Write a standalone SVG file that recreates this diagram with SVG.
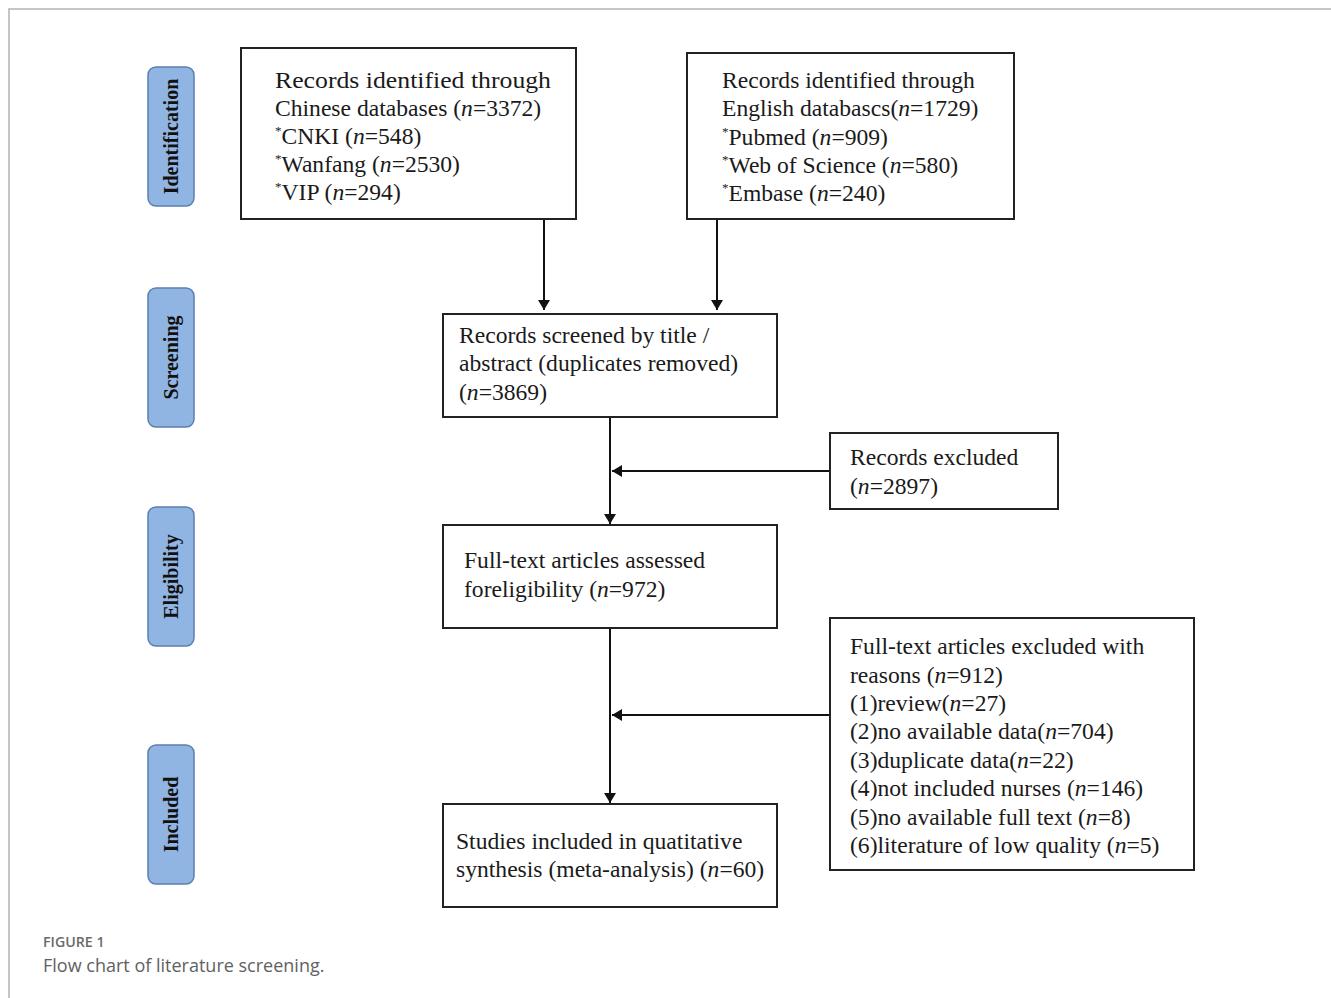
<svg xmlns="http://www.w3.org/2000/svg" width="1331" height="998" viewBox="0 0 1331 998">
<style>
.frame{fill:none;stroke:#b3b3b3;stroke-width:1.5}
.pill{fill:#91b5e2;stroke:#5b7fae;stroke-width:1.5}
.pt{font-family:"Liberation Serif",serif;font-weight:bold;font-size:20px;fill:#111;text-anchor:middle}
.box{fill:#fff;stroke:#222;stroke-width:2}
.t{font-family:"Liberation Serif",serif;font-size:23.6px;fill:#1a1a1a}
.sup{font-size:13px}
.conn{fill:none;stroke:#111;stroke-width:2}
.cap1{font-family:"Open Sans",sans-serif;font-size:14.2px;font-weight:600;fill:#6a6a6a}
.cap2{font-family:"Open Sans",sans-serif;font-size:18px;fill:#616161}
</style>
<defs>
<marker id="ah" viewBox="0 0 10 12" refX="10" refY="6" markerWidth="10" markerHeight="12" markerUnits="userSpaceOnUse" orient="auto">
<path d="M0,0 L10,6 L0,12 Z" fill="#111"/>
</marker>
</defs>
<rect width="1331" height="998" fill="#fff"/>
<path class="frame" d="M9,998 L9,9 L1331,9"/>

<g id="lab-identification"><rect class="pill" x="148" y="67" width="46" height="139" rx="8"/><text class="pt" transform="translate(178,136.5) rotate(-90)">Identification</text></g>
<g id="lab-screening"><rect class="pill" x="148" y="288" width="46" height="139" rx="8"/><text class="pt" transform="translate(178,357.5) rotate(-90)">Screening</text></g>
<g id="lab-eligibility"><rect class="pill" x="148" y="507" width="46" height="139" rx="8"/><text class="pt" transform="translate(178,576.5) rotate(-90)">Eligibility</text></g>
<g id="lab-included"><rect class="pill" x="148" y="745" width="46" height="139" rx="8"/><text class="pt" transform="translate(178,814.5) rotate(-90)">Included</text></g>

<g id="connectors">
<path class="conn" d="M544,219 L544,310" marker-end="url(#ah)"/>
<path class="conn" d="M717,219 L717,310" marker-end="url(#ah)"/>
<path class="conn" d="M610,417 L610,524" marker-end="url(#ah)"/>
<path class="conn" d="M830,471 L612,471" marker-end="url(#ah)"/>
<path class="conn" d="M610,628 L610,803" marker-end="url(#ah)"/>
<path class="conn" d="M830,715 L612,715" marker-end="url(#ah)"/>
</g>

<g id="chinese">
<rect class="box" x="241" y="48" width="335" height="171"/>
<text class="t" x="275" y="88" textLength="276" lengthAdjust="spacingAndGlyphs">Records identified through</text>
<text class="t" x="275" y="116">Chinese databases (<tspan font-style="italic">n</tspan>=3372)</text>
<text class="t" x="275" y="144"><tspan class="sup" dy="-9">*</tspan><tspan dy="9">CNKI (</tspan><tspan font-style="italic">n</tspan>=548)</text>
<text class="t" x="275" y="172"><tspan class="sup" dy="-9">*</tspan><tspan dy="9">Wanfang (</tspan><tspan font-style="italic">n</tspan>=2530)</text>
<text class="t" x="275" y="200"><tspan class="sup" dy="-9">*</tspan><tspan dy="9">VIP (</tspan><tspan font-style="italic">n</tspan>=294)</text>
</g>

<g id="english">
<rect class="box" x="687" y="53" width="327" height="166"/>
<text class="t" x="722" y="88">Records identified through</text>
<text class="t" x="722" y="116">English databascs(<tspan font-style="italic">n</tspan>=1729)</text>
<text class="t" x="722" y="145"><tspan class="sup" dy="-9">*</tspan><tspan dy="9">Pubmed (</tspan><tspan font-style="italic">n</tspan>=909)</text>
<text class="t" x="722" y="173"><tspan class="sup" dy="-9">*</tspan><tspan dy="9">Web of Science (</tspan><tspan font-style="italic">n</tspan>=580)</text>
<text class="t" x="722" y="201"><tspan class="sup" dy="-9">*</tspan><tspan dy="9">Embase (</tspan><tspan font-style="italic">n</tspan>=240)</text>
</g>

<g id="screened">
<rect class="box" x="443" y="314" width="334" height="103"/>
<text class="t" x="459" y="343">Records screened by title /</text>
<text class="t" x="459" y="371">abstract (duplicates removed)</text>
<text class="t" x="459" y="400">(<tspan font-style="italic">n</tspan>=3869)</text>
</g>

<g id="excluded">
<rect class="box" x="830" y="433" width="228" height="76"/>
<text class="t" x="850" y="465">Records excluded</text>
<text class="t" x="850" y="494">(<tspan font-style="italic">n</tspan>=2897)</text>
</g>

<g id="fulltext">
<rect class="box" x="443" y="525" width="334" height="103"/>
<text class="t" x="464" y="568">Full-text articles assessed</text>
<text class="t" x="464" y="597">foreligibility (<tspan font-style="italic">n</tspan>=972)</text>
</g>

<g id="reasons">
<rect class="box" x="830" y="618" width="364" height="252"/>
<text class="t" x="850" y="654">Full-text articles excluded with</text>
<text class="t" x="850" y="683">reasons (<tspan font-style="italic">n</tspan>=912)</text>
<text class="t" x="850" y="711">(1)review(<tspan font-style="italic">n</tspan>=27)</text>
<text class="t" x="850" y="739">(2)no available data(<tspan font-style="italic">n</tspan>=704)</text>
<text class="t" x="850" y="768">(3)duplicate data(<tspan font-style="italic">n</tspan>=22)</text>
<text class="t" x="850" y="796">(4)not included nurses (<tspan font-style="italic">n</tspan>=146)</text>
<text class="t" x="850" y="825">(5)no available full text (<tspan font-style="italic">n</tspan>=8)</text>
<text class="t" x="850" y="853">(6)literature of low quality (<tspan font-style="italic">n</tspan>=5)</text>
</g>

<g id="included">
<rect class="box" x="443" y="804" width="334" height="103"/>
<text class="t" x="456" y="849">Studies included in quatitative</text>
<text class="t" x="456" y="877">synthesis (meta-analysis) (<tspan font-style="italic">n</tspan>=60)</text>
</g>

<g id="caption">
<text class="cap1" x="43" y="947">FIGURE 1</text>
<text class="cap2" x="43" y="972">Flow chart of literature screening.</text>
</g>
</svg>
